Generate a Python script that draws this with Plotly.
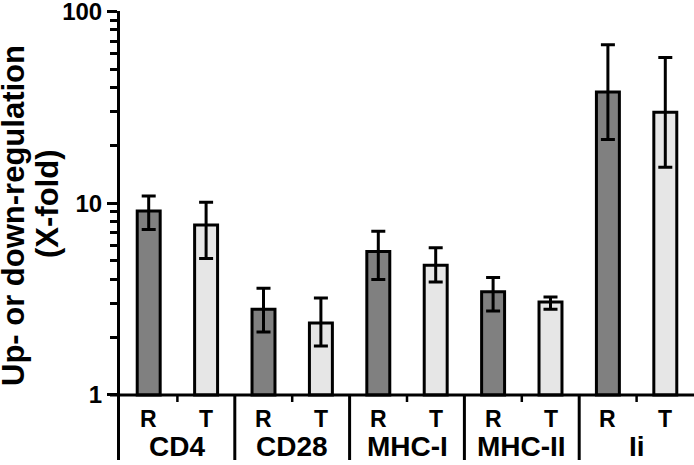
import plotly.graph_objects as go

# ---- data ----
groups = ["CD4", "CD28", "MHC-I", "MHC-II", "Ii"]
sub_labels = ["R", "T"]
r_values = [9.1, 2.8, 5.6, 3.45, 38.0]
r_err_hi = [10.9, 3.6, 7.15, 4.1, 67.0]
r_err_lo = [7.3, 2.13, 4.0, 2.74, 21.5]
t_values = [7.7, 2.37, 4.75, 3.05, 29.8]
t_err_hi = [10.1, 3.2, 5.85, 3.24, 57.5]
t_err_lo = [5.15, 1.8, 3.88, 2.8, 15.4]
y_tick_vals = [1, 10, 100]
y_tick_text = ["1", "10", "100"]
y_minor_vals = [2, 3, 4, 5, 6, 7, 8, 9, 20, 30, 40, 50, 60, 70, 80, 90]

FONT = "Liberation Sans, Arial, sans-serif"
DARK = "#808080"
LIGHT = "#e6e6e6"
ymin_log = -0.339
ymax_log = 2.002
base_frac = (0 - ymin_log) / (ymax_log - ymin_log)  # paper y of value 1

# plot area spans page x 120..694, y 11..460
PW, PH = 574, 449


def px_x(page_x):
    return (page_x - 120) / PW


def px_y(page_y):
    return (460 - page_y) / PH


n = len(groups)
x_r = [g + 0.25 for g in range(n)]
x_t = [g + 0.75 for g in range(n)]

fig = go.Figure()

for xs, vals, col in [(x_r, r_values, DARK), (x_t, t_values, LIGHT)]:
    fig.add_trace(go.Bar(
        x=xs, y=[v - 1 for v in vals], base=1, width=0.2,
        marker=dict(color=col, line=dict(color="black", width=3)),
        showlegend=False,
    ))

for xs, vals, hi, lo in [(x_r, r_values, r_err_hi, r_err_lo), (x_t, t_values, t_err_hi, t_err_lo)]:
    fig.add_trace(go.Scatter(
        x=xs, y=vals, mode="markers", marker=dict(size=1, opacity=0),
        error_y=dict(type="data", symmetric=False,
                     array=[h - v for h, v in zip(hi, vals)],
                     arrayminus=[v - l for v, l in zip(vals, lo)],
                     color="black", thickness=3, width=7),
        showlegend=False,
    ))

shapes = []
# baseline at value 1
shapes.append(dict(type="line", xref="paper", yref="paper", x0=px_x(110), x1=1,
                   y0=base_frac, y1=base_frac, line=dict(color="black", width=3)))
# group separators
for g in range(1, n):
    shapes.append(dict(type="line", xref="x", yref="paper", x0=g, x1=g,
                       y0=base_frac, y1=0, line=dict(color="black", width=3)))
# small ticks between R and T
for g in range(n):
    shapes.append(dict(type="line", xref="x", yref="paper", x0=g + 0.5, x1=g + 0.5,
                       y0=base_frac, y1=base_frac - 7 / PH, line=dict(color="black", width=2.5)))

annotations = []
for g in range(n):
    for xs, lab in [(x_r, sub_labels[0]), (x_t, sub_labels[1])]:
        annotations.append(dict(x=xs[g], y=px_y(419), xref="x", yref="paper",
                                text=lab, showarrow=False, xanchor="center", yanchor="middle",
                                font=dict(family=FONT, size=23, color="black", weight="bold")))
    annotations.append(dict(x=g + 0.5, y=px_y(446), xref="x", yref="paper",
                            text=groups[g], showarrow=False, xanchor="center", yanchor="middle",
                            font=dict(family=FONT, size=28, color="black", weight="bold")))

annotations.append(dict(x=px_x(13), y=px_y(216), xref="paper", yref="paper",
                        text="Up- or down-regulation", textangle=-90, showarrow=False,
                        xanchor="center", yanchor="middle",
                        font=dict(family=FONT, size=31, color="black", weight="bold")))
annotations.append(dict(x=px_x(47), y=px_y(204), xref="paper", yref="paper",
                        text="(X-fold)", textangle=-90, showarrow=False,
                        xanchor="center", yanchor="middle",
                        font=dict(family=FONT, size=31, color="black", weight="bold")))

fig.update_layout(
    width=694, height=465,
    margin=dict(l=120, r=0, t=11, b=5),
    paper_bgcolor="white", plot_bgcolor="white",
    barmode="overlay",
    shapes=shapes, annotations=annotations,
    xaxis=dict(range=[0, n], visible=False, fixedrange=True),
    yaxis=dict(type="log", range=[ymin_log, ymax_log], automargin=False,
               tickmode="array", tickvals=y_tick_vals, ticktext=y_tick_text,
               ticks="outside", ticklen=10, tickwidth=3, tickcolor="black",
               showline=True, linecolor="black", linewidth=3,
               showgrid=False, zeroline=False, ticklabeloverflow="allow",
               tickfont=dict(family=FONT, size=24, color="black", weight="bold"),
               minor=dict(tickmode="array", tickvals=y_minor_vals, ticks="outside",
                          ticklen=7, tickwidth=2.5, tickcolor="black", showgrid=False)),
)

fig.write_html("out.html", config={"displayModeBar": False},
               post_script="document.body.style.margin='0px';")
